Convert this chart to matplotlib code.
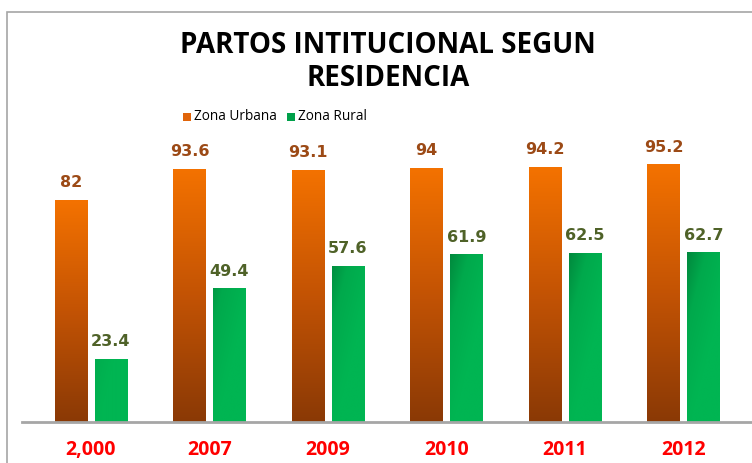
import numpy as np
import matplotlib.pyplot as plt
from matplotlib.colors import LinearSegmentedColormap
from matplotlib.patches import Rectangle

anios = ['2,000', '2007', '2009', '2010', '2011', '2012']
zona_urbana = [82, 93.6, 93.1, 94, 94.2, 95.2]
zona_rural = [23.4, 49.4, 57.6, 61.9, 62.5, 62.7]

W, H = 752, 463
fig = plt.figure(figsize=(W / 100, H / 100), dpi=100)

# marco gris del area del grafico
fig.add_artist(Rectangle((7 / W, -0.1), 1.2, 1.1 - 12 / H, transform=fig.transFigure,
                         fill=False, edgecolor='#A6A6A6', linewidth=1.2))

# ejes colocados en pixeles: base en y=422, 2.707 px por unidad
ax = fig.add_axes([22 / W, 41 / H, 730 / W, 282 / H])

x = np.arange(len(anios))
ancho = 33 / 118.5
sep = 7 / 118.5

cmap_naranja = LinearSegmentedColormap.from_list('nar', ['#8A3906', '#C35304', '#F47200'])
cmap_verde = LinearSegmentedColormap.from_list('ver', ['#00B552', '#00A94C', '#007A36'])

barras_u = ax.bar(x - (ancho + sep) / 2, zona_urbana, ancho, color='none', label='Zona Urbana')
barras_r = ax.bar(x + (ancho + sep) / 2, zona_rural, ancho, color='none', label='Zona Rural')

# degradado vertical para urbana
grad_v = np.linspace(0, 1, 256).reshape(-1, 1)
for b in barras_u:
    bx, bw, bh = b.get_x(), b.get_width(), b.get_height()
    im = ax.imshow(grad_v, cmap=cmap_naranja, origin='lower', aspect='auto',
                   extent=[bx, bx + bw, 0, bh], zorder=2)
    im.set_clip_path(b)

# degradado diagonal para rural (oscuro arriba a la izquierda)
uu, vv = np.meshgrid(np.linspace(0, 1, 64), np.linspace(0, 1, 256))
for b in barras_r:
    bx, bw, bh = b.get_x(), b.get_width(), b.get_height()
    v_abs = vv * bh / 63.0
    t = np.clip(((1 - uu) * 0.6 + v_abs * 0.8) - 0.55, 0, 1)
    im = ax.imshow(t, cmap=cmap_verde, origin='lower', aspect='auto',
                   extent=[bx, bx + bw, 0, bh], zorder=2, vmin=0, vmax=1)
    im.set_clip_path(b)

ax.set_xlim((22 - 91) / 118.5, (752 - 91) / 118.5)
ax.set_ylim(0, 282 / 2.707)

# etiquetas de valores
for b, v in zip(barras_u, zona_urbana):
    ax.annotate(f'{v:g}', (b.get_x() + b.get_width() / 2, v), xytext=(0, 7),
                textcoords='offset points', ha='center', va='bottom',
                fontsize=11.5, fontweight='bold', color='#9C4A16', family='DejaVu Sans')
for b, v in zip(barras_r, zona_rural):
    ax.annotate(f'{v:g}', (b.get_x() + b.get_width() / 2, v), xytext=(0, 7),
                textcoords='offset points', ha='center', va='bottom',
                fontsize=11.5, fontweight='bold', color='#4F6228', family='DejaVu Sans')

for s in ['top', 'right', 'left']:
    ax.spines[s].set_visible(False)
ax.spines['bottom'].set_color('#A6A6A6')
ax.spines['bottom'].set_linewidth(2)
ax.set_yticks([])
ax.set_xticks(x)
ax.set_xticklabels(anios, fontsize=14, fontweight='bold', color='#FF0000', family='Open Sans')
ax.tick_params(axis='x', length=0, pad=13)

fig.text(388 / W, 1 - 62 / H, 'PARTOS INTITUCIONAL SEGUN\nRESIDENCIA', ha='center', va='center',
         fontsize=20, fontweight='bold', family='Open Sans', linespacing=1.18)

# leyenda
fig.add_artist(Rectangle((183 / W, 1 - 121 / H), 8 / W, 8 / H, transform=fig.transFigure,
                         facecolor='#E0640A', edgecolor='none'))
fig.text(194 / W, 1 - 117 / H, 'Zona Urbana', va='center', fontsize=9.8, family='Open Sans')
fig.add_artist(Rectangle((287 / W, 1 - 121 / H), 8 / W, 8 / H, transform=fig.transFigure,
                         facecolor='#00A04A', edgecolor='none'))
fig.text(298 / W, 1 - 117 / H, 'Zona Rural', va='center', fontsize=9.8, family='Open Sans')

plt.savefig('out.png', dpi=100)
